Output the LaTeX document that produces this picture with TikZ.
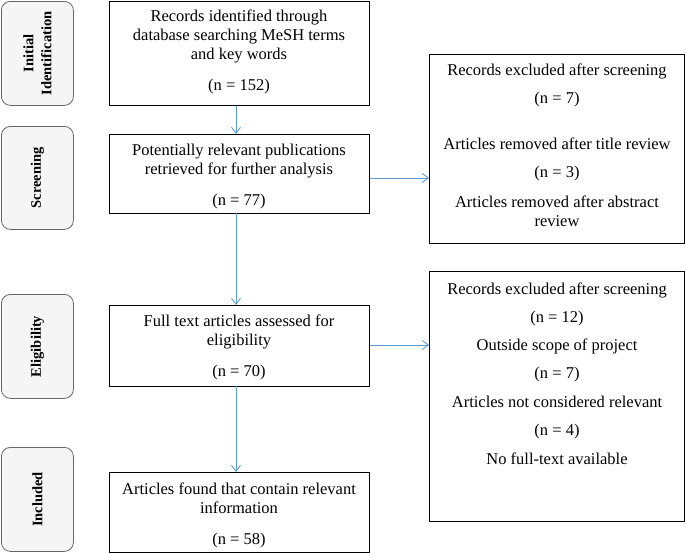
\documentclass[tikz,border=0pt]{standalone}
\usepackage{fontspec}
\setmainfont{Liberation Serif}
\usetikzlibrary{arrows.meta}
\definecolor{arr}{RGB}{91,155,213}
\begin{document}
\begin{tikzpicture}[x=1pt,y=-1pt,
  stage/.style={draw=gray!80!black,fill=gray!8,rounded corners=9pt,line width=0.8pt,anchor=north west,inner sep=0},
  box/.style={draw,line width=1pt,anchor=north west,inner sep=0},
  txt/.style={anchor=north,inner sep=0,align=center,font=\fontsize{16.5}{19}\selectfont},
  lab/.style={rotate=90,align=center,font=\bfseries\fontsize{14.5}{18}\selectfont},
  conn/.style={draw=arr,line width=0.9pt,-{Straight Barb[length=6pt,width=9pt]}}]
\useasboundingbox (0,0) rectangle (685,552);
% stage labels
\node[stage,minimum width=72pt,minimum height=104pt] (s1) at (1,1) {};
\node[lab] at (s1.center) {Initial\\Identification};
\node[stage,minimum width=72pt,minimum height=103pt] (s2) at (1,126) {};
\node[lab] at (s2.center) {Screening};
\node[stage,minimum width=72pt,minimum height=104pt] (s3) at (1,294) {};
\node[lab] at (s3.center) {Eligibility};
\node[stage,minimum width=72pt,minimum height=104pt] (s4) at (1,447) {};
\node[lab] at (s4.center) {Included};
% main boxes
\node[box,minimum width=260pt,minimum height=104pt] (b1) at (109,1) {};
\node[txt] (t1) at (239,10) {Records identified through\\database searching MeSH terms\\and key words\\[12pt](n = 152)};
\node[box,minimum width=260pt,minimum height=79pt] (b2) at (109,134) {};
\node[txt] (t2) at (239,144) {Potentially relevant publications\\retrieved for further analysis\\[12pt](n = 77)};
\node[box,minimum width=260pt,minimum height=81pt] (b3) at (109,305) {};
\node[txt] (t3) at (239,315) {Full text articles assessed for\\eligibility\\[12pt](n = 70)};
\node[box,minimum width=260pt,minimum height=80pt] (b4) at (109,472) {};
\node[txt] (t4) at (239,483) {Articles found that contain relevant\\information\\[12pt](n = 58)};
% right boxes
\node[box,minimum width=255pt,minimum height=189pt] (r1) at (429,54) {};
\node[txt] (u1) at (557,64) {Records excluded after screening\\[9pt](n = 7)\\[27pt]Articles removed after title review\\[9pt](n = 3)\\[11pt]Articles removed after abstract\\review};
\node[box,minimum width=255pt,minimum height=250pt] (r2) at (429,271) {};
\node[txt] (u2) at (557,283) {Records excluded after screening\\[9pt](n = 12)\\[9pt]Outside scope of project\\[9pt](n = 7)\\[10pt]Articles not considered relevant\\[9pt](n = 4)\\[10pt]No full-text available};
% connectors
\draw[conn] (b1.south -| 236,0) -- (236,134);
\draw[conn] (236,213) -- (236,305);
\draw[conn] (236,386) -- (236,472);
\draw[conn] (b2.east |- 0,178) -- (r1.west |- 0,178);
\draw[conn] (b3.east |- 0,345) -- (r2.west |- 0,345);
\end{tikzpicture}
\end{document}
